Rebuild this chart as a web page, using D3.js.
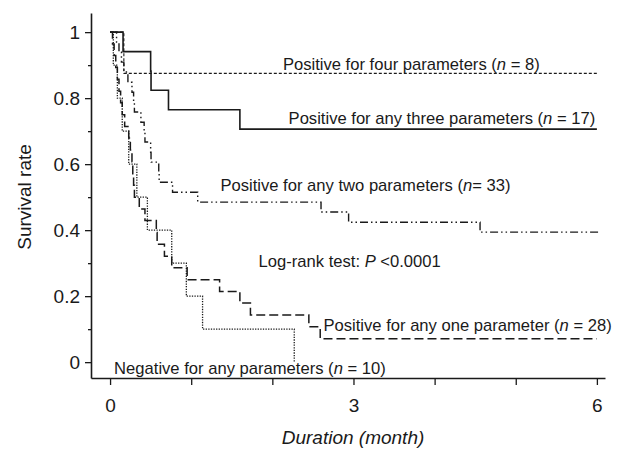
<!DOCTYPE html>
<html><head><meta charset="utf-8">
<script src="https://cdn.jsdelivr.net/npm/d3@7"></script>
<style>
html,body{margin:0;padding:0;background:#fff;}
text{font-family:"Liberation Sans",Arial,Helvetica,sans-serif;fill:#1a1a1a;}
</style></head>
<body>
<svg id="chart" width="618" height="451"></svg>
<script>
// ---- data ----
const fourTimes = [0, 0.17, 6.0];
const fourSurv  = [1, 0.875, 0.875];

const threeTimes = [0, 0.16, 0.50, 0.505, 0.72, 1.60, 6.0];
const threeSurv  = [1, 0.941, 0.882, 0.824, 0.765, 0.706, 0.706];

const twoTimes = [0, 0.08, 0.11, 0.14, 0.17, 0.22, 0.27, 0.29, 0.30, 0.38, 0.42, 0.43, 0.50, 0.505, 0.60, 0.605, 0.77, 1.08, 2.60, 2.94, 4.56, 6.05];
const twoSurv  = [1, 0.970, 0.939, 0.909, 0.879, 0.848, 0.818, 0.788, 0.758, 0.727, 0.697, 0.667, 0.636, 0.606, 0.576, 0.545, 0.515, 0.485, 0.455, 0.424, 0.394, 0.394];

const oneTimes = [0, 0.03, 0.05, 0.07, 0.09, 0.11, 0.13, 0.15, 0.18, 0.23, 0.25, 0.27, 0.28, 0.29, 0.30, 0.36, 0.43, 0.57, 0.58, 0.67, 0.76, 0.95, 1.35, 1.60, 1.73, 2.45, 2.59, 6.0];
const oneSurv  = [1, 0.964, 0.929, 0.893, 0.857, 0.821, 0.786, 0.750, 0.714, 0.679, 0.643, 0.607, 0.571, 0.536, 0.500, 0.464, 0.429, 0.393, 0.357, 0.321, 0.286, 0.250, 0.214, 0.179, 0.143, 0.107, 0.071, 0.071];

const negTimes = [0, 0.04, 0.09, 0.15, 0.23, 0.33, 0.46, 0.76, 0.94, 1.14, 2.27];
const negSurv  = [1, 0.9, 0.8, 0.7, 0.6, 0.5, 0.4, 0.3, 0.2, 0.1, 0];

const xTicks = [0, 1, 2, 3, 4, 5, 6];
const xTickLabels = ["0", "", "", "3", "", "", "6"];
const yTicks = [0, 0.2, 0.4, 0.6, 0.8, 1];
const yTickLabels = ["0", "0.2", "0.4", "0.6", "0.8", "1"];
const yMinorTicks = [0.1, 0.3, 0.5, 0.7, 0.9];

const labels = [
  {parts:[["Positive for four parameters (",""],["n","i"],[" = 8)",""]], t:2.13, s:0.885},
  {parts:[["Positive for any three parameters (",""],["n","i"],[" = 17)",""]], t:2.2, s:0.722},
  {parts:[["Positive for any two parameters (",""],["n","i"],["= 33)",""]], t:1.36, s:0.518},
  {parts:[["Log-rank test: ",""],["P","i"],[" <0.0001",""]], t:1.83, s:0.288},
  {parts:[["Positive for any one parameter (",""],["n","i"],[" = 28)",""]], t:2.63, s:0.094},
  {parts:[["Negative for any parameters (",""],["n","i"],[" = 10)",""]], t:0.05, s:-0.036}
];

// ---- scales ----
const svg = d3.select("#chart");
const x = d3.scaleLinear().domain([-0.235, 6.1]).range([91, 605]);
const y = d3.scaleLinear().domain([-0.048, 1.058]).range([378, 13]);

// ---- axes ----
const xAxis = d3.axisBottom(x).tickValues(xTicks)
  .tickFormat((d,i) => xTickLabels[i]).tickSize(7).tickSizeOuter(0).tickPadding(14);
const gx = svg.append("g").attr("transform", "translate(0,378)").call(xAxis);
gx.selectAll("text").style("font-size", "19px");

const yAxis = d3.axisLeft(y).tickValues(yTicks)
  .tickFormat((d,i) => yTickLabels[i]).tickSize(6).tickSizeOuter(0).tickPadding(5);
const gy = svg.append("g").attr("transform", "translate(91,0)").call(yAxis);
gy.selectAll("text").style("font-size", "19px");

const gyMinor = svg.append("g").attr("transform", "translate(91,0)")
  .call(d3.axisLeft(y).tickValues(yMinorTicks).tickFormat("").tickSize(3).tickSizeOuter(0));
gyMinor.select(".domain").remove();

svg.selectAll(".domain").attr("stroke", "#1a1a1a").attr("stroke-width", 1.6);
svg.selectAll(".tick line").attr("stroke", "#1a1a1a").attr("stroke-width", 1.3);

// axis titles
svg.append("text").attr("x", 353).attr("y", 444).attr("text-anchor", "middle")
  .style("font-size", "19px").style("font-style", "italic").text("Duration (month)");
svg.append("text").attr("transform", "translate(31,197) rotate(-90)").attr("text-anchor", "middle")
  .style("font-size", "19px").text("Survival rate");

// ---- curves ----
const line = d3.line().x(d => x(d[0])).y(d => y(d[1])).curve(d3.curveStepAfter);
const series = [
  {t: fourTimes, s: fourSurv, dash: "3,2", w: 1.1},
  {t: threeTimes, s: threeSurv, dash: null, w: 1.6},
  {t: twoTimes, s: twoSurv, dash: "8,3,1.5,3,1.5,3", w: 1.4},
  {t: oneTimes, s: oneSurv, dash: "9,4", w: 1.5},
  {t: negTimes, s: negSurv, dash: "1.3,1.3", w: 1.3}
];
series.forEach(sr => {
  const pts = sr.t.map((t,i) => [t, sr.s[i]]);
  svg.append("path").datum(pts).attr("d", line)
    .attr("fill", "none").attr("stroke", "#1a1a1a")
    .attr("stroke-width", sr.w)
    .attr("stroke-dasharray", sr.dash);
});

// ---- labels ----
labels.forEach(l => {
  const t = svg.append("text").attr("x", x(l.t)).attr("y", y(l.s)).style("font-size", "16.6px");
  l.parts.forEach(p => {
    const ts = t.append("tspan").text(p[0]);
    if (p[1] === "i") ts.style("font-style", "italic");
  });
});
</script>
</body></html>
